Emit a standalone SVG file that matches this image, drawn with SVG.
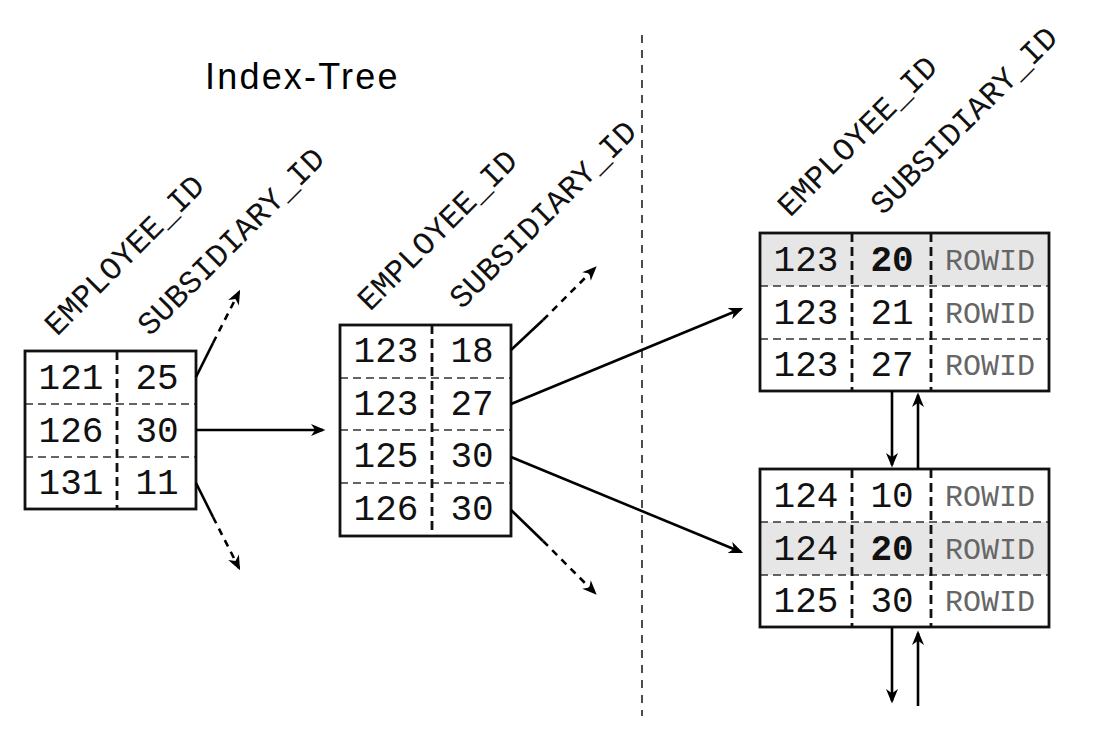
<svg xmlns="http://www.w3.org/2000/svg" width="1099" height="730" viewBox="0 0 1099 730">
<defs>
<marker id="ah" viewBox="0 0 12 10" refX="10" refY="5" markerWidth="15" markerHeight="12" markerUnits="userSpaceOnUse" orient="auto">
<path d="M0,0 L12,5 L0,10 L3.5,5 z" fill="#000"/>
</marker>
<style>
.box{fill:none;stroke:#111;stroke-width:2.8}
.hl{fill:#e6e6e6;stroke:none}
.bg{fill:#fff;stroke:none}
.hd{stroke:#333;stroke-width:1.6;stroke-dasharray:8,5;fill:none}
.vd{stroke:#111;stroke-width:2.8;stroke-dasharray:9,5;fill:none}
.num{font-family:"Liberation Mono","DejaVu Sans Mono",monospace;font-size:36px;fill:#111;text-anchor:middle}
.b{font-weight:bold}
.rid{font-family:"Liberation Mono","DejaVu Sans Mono",monospace;font-size:30px;fill:#666;text-anchor:middle}
.lbl{font-family:"Liberation Mono","DejaVu Sans Mono",monospace;font-size:32px;fill:#111}
.ttl{font-family:"Liberation Sans",Arial,sans-serif;font-size:36px;fill:#000;letter-spacing:2.2px}
.ln{stroke:#000;stroke-width:2.6;fill:none}
.dl{stroke:#000;stroke-width:2.6;fill:none;stroke-dasharray:7,6}
.sep{stroke:#000;stroke-width:1.4;fill:none;stroke-dasharray:8,7}
</style>
</defs>
<rect width="1099" height="730" fill="#fff"/>
<text class="ttl" x="205" y="89">Index-Tree</text>
<line class="sep" x1="642" y1="35" x2="642" y2="716"/>

<g id="root-node">
<rect class="bg" x="25" y="351" width="171" height="158"/>
<line class="hd" x1="25" y1="404" x2="196" y2="404"/>
<line class="hd" x1="25" y1="457" x2="196" y2="457"/>
<line class="vd" x1="117" y1="351" x2="117" y2="509"/>
<rect class="box" x="25" y="351" width="171" height="158"/>
<text class="num" x="71" y="389">121</text><text class="num" x="157" y="389">25</text>
<text class="num" x="71" y="442">126</text><text class="num" x="157" y="442">30</text>
<text class="num" x="71" y="494">131</text><text class="num" x="157" y="494">11</text>
<text class="lbl" transform="translate(57,337) rotate(-45)">EMPLOYEE_ID</text>
<text class="lbl" transform="translate(150,337) rotate(-45)">SUBSIDIARY_ID</text>
</g>

<g id="branch-node">
<rect class="bg" x="340" y="325" width="171" height="211"/>
<line class="hd" x1="340" y1="378" x2="511" y2="378"/>
<line class="hd" x1="340" y1="430" x2="511" y2="430"/>
<line class="hd" x1="340" y1="483" x2="511" y2="483"/>
<line class="vd" x1="432" y1="325" x2="432" y2="536"/>
<rect class="box" x="340" y="325" width="171" height="211"/>
<text class="num" x="386" y="362">123</text><text class="num" x="472" y="362">18</text>
<text class="num" x="386" y="415">123</text><text class="num" x="472" y="415">27</text>
<text class="num" x="386" y="467">125</text><text class="num" x="472" y="467">30</text>
<text class="num" x="386" y="520">126</text><text class="num" x="472" y="520">30</text>
<text class="lbl" transform="translate(370,312) rotate(-45)">EMPLOYEE_ID</text>
<text class="lbl" transform="translate(462,310) rotate(-45)">SUBSIDIARY_ID</text>
</g>

<g id="leaf-node-1">
<rect class="bg" x="760" y="233" width="289" height="158"/>
<rect class="hl" x="760" y="233" width="289" height="53"/>
<line class="hd" x1="760" y1="286" x2="1049" y2="286"/>
<line class="hd" x1="760" y1="339" x2="1049" y2="339"/>
<line class="vd" x1="852" y1="233" x2="852" y2="391"/>
<line class="vd" x1="931" y1="233" x2="931" y2="391"/>
<rect class="box" x="760" y="233" width="289" height="158"/>
<text class="num" x="806" y="271">123</text><text class="num b" x="892" y="271">20</text><text class="rid" x="990" y="270">ROWID</text>
<text class="num" x="806" y="324">123</text><text class="num" x="892" y="324">21</text><text class="rid" x="990" y="323">ROWID</text>
<text class="num" x="806" y="376">123</text><text class="num" x="892" y="376">27</text><text class="rid" x="990" y="375">ROWID</text>
<text class="lbl" transform="translate(790,218) rotate(-45)">EMPLOYEE_ID</text>
<text class="lbl" transform="translate(883,216) rotate(-45)">SUBSIDIARY_ID</text>
</g>

<g id="leaf-node-2">
<rect class="bg" x="760" y="469" width="289" height="158"/>
<rect class="hl" x="760" y="522" width="289" height="53"/>
<line class="hd" x1="760" y1="522" x2="1049" y2="522"/>
<line class="hd" x1="760" y1="575" x2="1049" y2="575"/>
<line class="vd" x1="852" y1="469" x2="852" y2="627"/>
<line class="vd" x1="931" y1="469" x2="931" y2="627"/>
<rect class="box" x="760" y="469" width="289" height="158"/>
<text class="num" x="806" y="507">124</text><text class="num" x="892" y="507">10</text><text class="rid" x="990" y="506">ROWID</text>
<text class="num" x="806" y="560">124</text><text class="num b" x="892" y="560">20</text><text class="rid" x="990" y="559">ROWID</text>
<text class="num" x="806" y="612">125</text><text class="num" x="892" y="612">30</text><text class="rid" x="990" y="611">ROWID</text>
</g>

<g id="connectors">
<line class="ln" x1="196" y1="377" x2="213" y2="343"/>
<line class="dl" x1="213" y1="343" x2="239" y2="292" marker-end="url(#ah)"/>
<line class="ln" x1="196" y1="430" x2="323" y2="430" marker-end="url(#ah)"/>
<line class="ln" x1="196" y1="483" x2="213" y2="517"/>
<line class="dl" x1="213" y1="517" x2="239" y2="568" marker-end="url(#ah)"/>

<line class="ln" x1="511" y1="350" x2="543" y2="320"/>
<line class="dl" x1="543" y1="320" x2="595" y2="268" marker-end="url(#ah)"/>
<line class="ln" x1="511" y1="404" x2="741" y2="309" marker-end="url(#ah)"/>
<line class="ln" x1="511" y1="457" x2="741" y2="552" marker-end="url(#ah)"/>
<line class="ln" x1="511" y1="510" x2="543" y2="541"/>
<line class="dl" x1="543" y1="541" x2="595" y2="593" marker-end="url(#ah)"/>

<line class="ln" x1="892" y1="391" x2="892" y2="465" marker-end="url(#ah)"/>
<line class="ln" x1="918" y1="469" x2="918" y2="395" marker-end="url(#ah)"/>
<line class="ln" x1="892" y1="627" x2="892" y2="701" marker-end="url(#ah)"/>
<line class="ln" x1="918" y1="706" x2="918" y2="633" marker-end="url(#ah)"/>
</g>
</svg>
